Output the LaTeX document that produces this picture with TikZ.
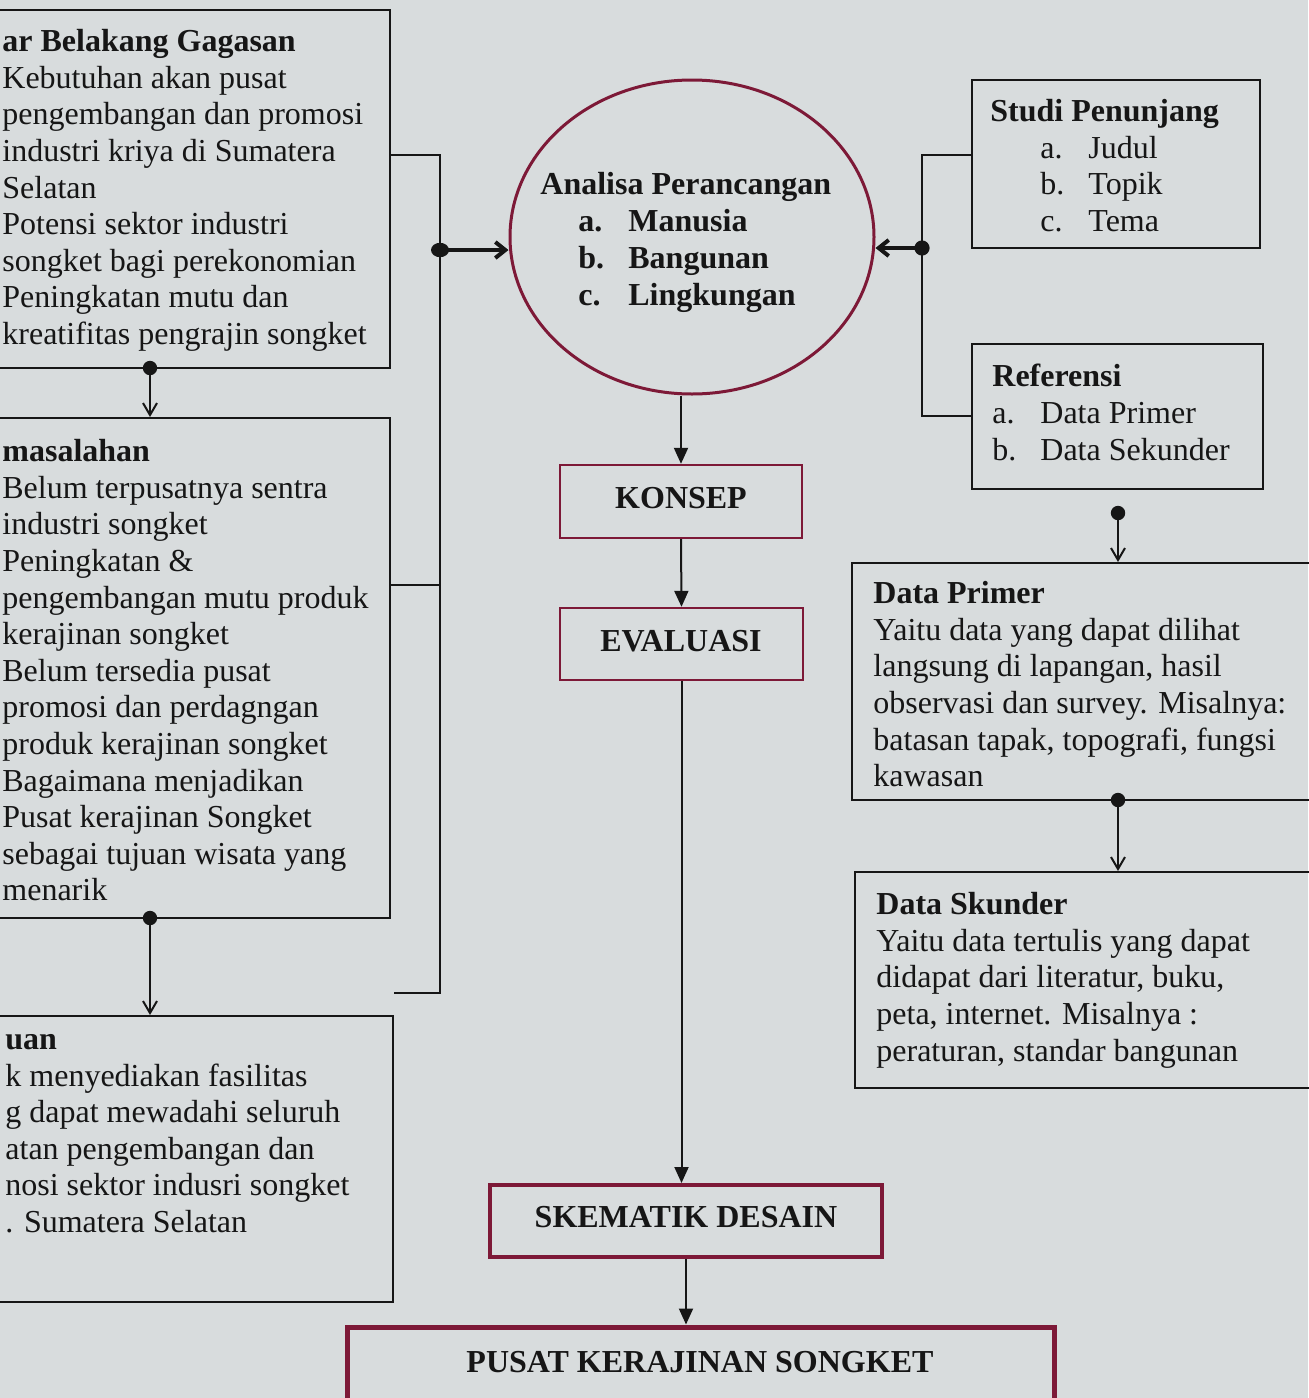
\documentclass[tikz,border=0pt]{standalone}
\usepackage{fontspec}
\setmainfont{Liberation Serif}
\usetikzlibrary{arrows.meta,shapes.geometric,fit}
\definecolor{bgc}{RGB}{216,220,221}
\definecolor{mar}{RGB}{125,25,55}
\definecolor{ink}{RGB}{22,22,22}
\begin{document}
\begin{tikzpicture}[x=0.5pt,y=-0.5pt,
  box/.style={draw=ink, line width=1pt, inner sep=0pt},
  redbox/.style={draw=mar, line width=1.2pt, inner sep=0pt},
  lbl/.style={inner sep=0pt, text=ink, font=\fontsize{16pt}{18pt}\selectfont\bfseries},
  txt/.style={inner sep=0pt, align=left, anchor=north west, text=ink,
    font=\fontsize{16pt}{18.3pt}\selectfont},
  conn/.style={draw=ink, line width=1pt},
  barb/.style={conn, -{Straight Barb[length=6pt,width=7pt,line width=1pt]}},
  tri/.style={conn, -{Triangle[length=8pt,width=7pt]}},
  thickarr/.style={draw=ink, line width=2pt, -{Straight Barb[length=5pt,width=8pt]}}]

% page
\fill[bgc] (0,0) rectangle (1308,1398);
\useasboundingbox (0,0) rectangle (1308,1398);

% left column boxes
\node[box, fit={(-20,10) (390,368)}] (lbg) {};
\node[box, fit={(-20,418) (390,918)}] (perm) {};
\node[box, fit={(-20,1016) (393,1302)}] (tuj) {};

\node[txt] (lbgt) at (2,29) {\textbf{ar Belakang Gagasan}\\Kebutuhan akan pusat\\pengembangan dan promosi\\industri kriya di Sumatera\\Selatan\\Potensi sektor industri\\songket bagi perekonomian\\Peningkatan mutu dan\\kreatifitas pengrajin songket};
\node[txt] (permt) at (2,439) {\textbf{masalahan}\\Belum terpusatnya sentra\\industri songket\\Peningkatan \&\\pengembangan mutu produk\\kerajinan songket\\Belum tersedia pusat\\promosi dan perdagngan\\produk kerajinan songket\\Bagaimana menjadikan\\Pusat kerajinan Songket\\sebagai tujuan wisata yang\\menarik};
\node[txt] (tujt) at (5,1034) {\textbf{uan}\\k menyediakan fasilitas\\g dapat mewadahi seluruh\\atan pengembangan dan\\nosi sektor indusri songket\\. Sumatera Selatan};

% central ellipse
\node[draw=mar, line width=1.5pt, ellipse, minimum width=182pt, minimum height=157pt, inner sep=0pt] (ana) at (692,237) {};
\node[txt, font=\fontsize{16pt}{18.5pt}\selectfont\bfseries] (anat) at (540,172) {Analisa Perancangan\\\hspace*{19pt}\makebox[25pt][l]{a.}Manusia\\\hspace*{19pt}\makebox[25pt][l]{b.}Bangunan\\\hspace*{19pt}\makebox[25pt][l]{c.}Lingkungan};

% right boxes
\node[box, fit={(972,80) (1260,248)}] (stud) {};
\node[box, fit={(972,344) (1263,489)}] (ref) {};
\node[txt] (studt) at (990,99) {\textbf{Studi Penunjang}\\\hspace*{25pt}\makebox[24pt][l]{a.}Judul\\\hspace*{25pt}\makebox[24pt][l]{b.}Topik\\\hspace*{25pt}\makebox[24pt][l]{c.}Tema};
\node[txt] (reft) at (992,364) {\textbf{Referensi}\\\makebox[24pt][l]{a.}Data Primer\\\makebox[24pt][l]{b.}Data Sekunder};

\node[box, fit={(852,563) (1330,800)}] (dp) {};
\node[box, fit={(855,872) (1330,1088)}] (ds) {};
\node[txt] (dpt) at (873,581) {\textbf{Data Primer}\\Yaitu data yang dapat dilihat\\langsung di lapangan, hasil\\observasi dan survey. Misalnya:\\batasan tapak, topografi, fungsi\\kawasan};
\node[txt] (dst) at (876,892) {\textbf{Data Skunder}\\Yaitu data tertulis yang dapat\\didapat dari literatur, buku,\\peta, internet. Misalnya :\\peraturan, standar bangunan};

% centre column boxes
\node[redbox, fit={(560,465) (802,538)}] (kon) {};
\node[redbox, fit={(560,608) (803,680)}] (eva) {};
\node[redbox, line width=2pt, fit={(490,1185) (882,1257)}] (ske) {};
\node[redbox, line width=2.5pt, fit={(347,1327) (1054,1440)}] (pus) {};
\node[lbl] (kont) at (681,498) {KONSEP};
\node[lbl] (evat) at (681,641) {EVALUASI};
\node[lbl] (sket) at (686,1217) {SKEMATIK DESAIN};
\node[lbl] (pust) at (700,1362) {PUSAT KERAJINAN SONGKET};

% junction coordinates
\coordinate (d1) at (150,368);
\coordinate (d2) at (150,918);
\coordinate (bt) at (440,155);
\coordinate (bm) at (440,585);
\coordinate (bb) at (440,993);
\coordinate (bd) at (440,250);
\coordinate (rt) at (922,155);
\coordinate (rb) at (922,416);
\coordinate (rd) at (922,248);
\coordinate (d3) at (1118,513);
\coordinate (d4) at (1118,800);

% left chain
\draw[barb] (d1) -- (d1 |- perm.north);
\draw[barb] (d2) -- (d2 |- tuj.north);
\fill[ink] (d1) circle[radius=3.6pt];
\fill[ink] (d2) circle[radius=3.6pt];

% left bracket
\draw[conn] (bt -| lbg.east) -- (bt) -- (bb) -- (bb -| tuj.east);
\draw[conn] (bm -| perm.east) -- (bm);
\draw[thickarr] (bd) -- (bd -| ana.west);
\fill[ink] (bd) ellipse[x radius=4.5pt, y radius=3.6pt];

% right bracket
\draw[conn] (rt -| stud.west) -- (rt) -- (rb) -- (rb -| ref.west);
\draw[thickarr] (rd) -- (rd -| ana.east);
\fill[ink] (rd) circle[radius=3.8pt];

% right chain
\draw[barb] (d3) -- (d3 |- dp.north);
\draw[barb] (d4) -- (d4 |- ds.north);
\fill[ink] (d3) circle[radius=3.6pt];
\fill[ink] (d4) circle[radius=3.6pt];

% centre chain
\draw[tri] (kon.north |- ana.south) -- (kon.north);
\draw[tri] (kon.south) -- (eva.north);
\draw[tri] (eva.south) -- (eva.south |- ske.north);
\draw[tri] (ske.south) -- (ske.south |- pus.north);
\end{tikzpicture}
\end{document}
